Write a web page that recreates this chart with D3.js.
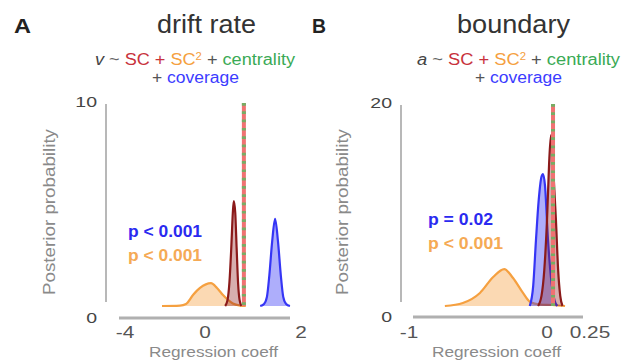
<!DOCTYPE html>
<html>
<head>
<meta charset="utf-8">
<script src="https://cdn.jsdelivr.net/npm/d3@7"></script>
<style>
  body { margin: 0; background: #fff; }
  svg { display: block; font-family: "Liberation Sans", Arial, sans-serif; }
</style>
</head>
<body>
<svg id="chart" width="621" height="362"></svg>
<script>
// ---- data ----
// panel A: drift rate posteriors
const driftSC2X = [-2.15, -1.25, -0.95, -0.6, -0.25, 0.125, 0.25, 0.375, 0.48, 0.58, 0.73, 0.85];
const driftSC2Y = [0, 0.02, 0.1, 0.54, 0.89, 1.13, 0.89, 0.54, 0.3, 0.12, 0.02, 0];
const driftSCX = [0.42, 0.47, 0.51, 0.55, 0.58, 0.6, 0.63, 0.66, 0.69, 0.72, 0.76];
const driftSCY = [0, 0.3, 1.2, 3.0, 4.6, 5.17, 4.6, 2.8, 1.1, 0.3, 0];
const driftCovX = [1.15, 1.23, 1.29, 1.34, 1.4, 1.46, 1.52, 1.58, 1.63, 1.69, 1.77];
const driftCovY = [0, 0.1, 0.45, 1.5, 3.2, 4.29, 3.2, 1.5, 0.45, 0.1, 0];
const driftCentrality = 0.81;

// panel B: boundary posteriors
const boundSC2X = [-0.74, -0.61, -0.486, -0.39, -0.31, -0.246, -0.174, -0.123, -0.05, 0.03, 0.105];
const boundSC2Y = [0, 0.3, 1.29, 2.87, 3.66, 2.77, 1.29, 0.4, 0.15, 0.1, 0];
const boundCovX = [-0.125, -0.1, -0.08, -0.06, -0.04, -0.029, -0.015, 0.006, 0.025, 0.045, 0.06];
const boundCovY = [0, 2, 6.5, 10.5, 12.8, 13.07, 12, 6.5, 2.5, 0.5, 0];
const boundSCX = [-0.065, -0.04, -0.02, 0, 0.012, 0.023, 0.035, 0.052, 0.065, 0.077, 0.09];
const boundSCY = [0, 1, 3.5, 8.5, 14, 16.93, 14, 8.5, 3.5, 1, 0];
const boundCentrality = 0.035;

const xTicksA = [-4, 0, 2];
const xTicksB = [-1, 0, 0.25];
const yMaxA = 10;
const yMaxB = 20;
const pTextA = ["p < 0.001", "p < 0.001"];
const pTextB = ["p = 0.02", "p < 0.001"];

const RED = "#c8323c", ORANGE = "#f5a040", GREEN = "#3aaa55", BLUE = "#3c3cff";
const DARKRED = "#8b1a1a", COVBLUE = "#3535f5";

const svg = d3.select("#chart");
const STRETCH = 1.3;   // the figure's text is drawn wide

function label(g, x, y, str, o) {
  const t = g.append("text")
    .attr("x", x).attr("y", y)
    .attr("font-size", o.size)
    .attr("fill", o.color || "#333")
    .attr("text-anchor", o.anchor || "start")
    .text(str);
  if (o.weight) t.attr("font-weight", o.weight);
  const w = o.width || t.node().getComputedTextLength() * STRETCH;
  t.attr("textLength", w).attr("lengthAdjust", "spacingAndGlyphs");
  return t;
}

function formula(g, x, y, width, parts) {
  const t = g.append("text").attr("x", x).attr("y", y).attr("font-size", 16);
  parts.forEach(p => {
    const s = t.append("tspan").text(p[0]).attr("fill", p[1]);
    if (p[2] === "it") s.attr("font-style", "italic");
    if (p[2] === "sup") s.attr("baseline-shift", "super").attr("font-size", 10);
  });
  t.attr("textLength", width).attr("lengthAdjust", "spacingAndGlyphs");
}

function panel(cfg) {
  const g = svg.append("g");
  const x = d3.scaleLinear().domain(cfg.xTicks).range(cfg.xRange);
  const y = d3.scaleLinear().domain([0, cfg.yMax]).range([306, cfg.yTop]);

  // axes (offset, no ticks)
  g.append("line")
    .attr("x1", cfg.xLine[0]).attr("x2", cfg.xLine[1])
    .attr("y1", cfg.axisY).attr("y2", cfg.axisY)
    .attr("stroke", "#b0b0b0").attr("stroke-width", 3);
  g.append("line")
    .attr("x1", cfg.axisX).attr("x2", cfg.axisX)
    .attr("y1", y(cfg.yMax) + 1).attr("y2", 302)
    .attr("stroke", "#a0a0a0").attr("stroke-width", 1.5);

  cfg.xTicks.forEach(v => label(g, x(v), 338, String(v), { size: 16, color: "#555", anchor: "middle" }));
  label(g, cfg.axisX - 9, y(cfg.yMax) + 4, String(cfg.yMax), { size: 15, color: "#444", anchor: "end" });
  label(g, cfg.axisX - 9, cfg.axisY + 5, "0", { size: 15, color: "#444", anchor: "end" });

  // densities
  const area = d3.area().x(d => x(d[0])).y0(y(0)).y1(d => y(d[1])).curve(d3.curveMonotoneX);
  const line = d3.line().x(d => x(d[0])).y(d => y(d[1])).curve(d3.curveMonotoneX);
  cfg.curves.forEach(c => {
    const pts = d3.zip(c.xs, c.ys);
    g.append("path").attr("d", area(pts)).attr("fill", c.color).attr("fill-opacity", c.fillOp);
    g.append("path").attr("d", line(pts)).attr("fill", "none")
      .attr("stroke", c.color).attr("stroke-width", 2.2).attr("stroke-linejoin", "round");
  });

  // centrality: red/green dashed vertical line
  g.append("line")
    .attr("x1", x(cfg.centrality)).attr("x2", x(cfg.centrality))
    .attr("y1", y(cfg.yMax)).attr("y2", y(0))
    .attr("stroke", "#f07272").attr("stroke-width", 4);
  g.append("line")
    .attr("x1", x(cfg.centrality)).attr("x2", x(cfg.centrality))
    .attr("y1", y(cfg.yMax)).attr("y2", y(0))
    .attr("stroke", "#76ad64").attr("stroke-width", 4)
    .attr("stroke-dasharray", "2.7,5.6");

  // p values
  label(g, cfg.pX, cfg.pY[0], cfg.pText[0], { size: 16, weight: "bold", color: "#2a2af0", width: cfg.pW[0] });
  label(g, cfg.pX, cfg.pY[1], cfg.pText[1], { size: 16, weight: "bold", color: "#f5aa55", width: cfg.pW[1] });

  // labels
  g.append("text")
    .attr("transform", `translate(${cfg.yTitleX},212) rotate(-90)`)
    .attr("text-anchor", "middle").attr("font-size", 16).attr("fill", "#8a8a8a")
    .attr("textLength", 166).attr("lengthAdjust", "spacingAndGlyphs")
    .text("Posterior probability");
  label(g, cfg.xTitleX, 357, "Regression coeff", { size: 14, color: "#8a8a8a", width: 129 });
  label(g, cfg.letterX, 33, cfg.letter, { size: 20, weight: "bold", color: "#222", width: cfg.letterW });
  label(g, cfg.titleX, 33, cfg.title, { size: 25, color: "#333", width: cfg.titleW });
  formula(g, cfg.f1X, 65, cfg.f1W, cfg.f1);
  formula(g, cfg.f2X, 83, 87, [["+ ", "#555"], ["coverage", BLUE]]);
}

panel({
  letter: "A", letterX: 14, letterW: 17, title: "drift rate", titleX: 157, titleW: 99,
  xTicks: xTicksA, xRange: [125, 205, 301], yMax: yMaxA, yTop: 103,
  axisX: 106, axisY: 318, xLine: [119, 290],
  yTitleX: 55, xTitleX: 149,
  curves: [
    { xs: driftSC2X, ys: driftSC2Y, color: ORANGE, fillOp: 0.4 },
    { xs: driftCovX, ys: driftCovY, color: COVBLUE, fillOp: 0.4 },
    { xs: driftSCX, ys: driftSCY, color: DARKRED, fillOp: 0.35 }
  ],
  centrality: driftCentrality,
  pText: pTextA, pX: 128, pY: [237, 261], pW: [74, 74],
  f1X: 95, f1W: 200,
  f1: [["v", "#444", "it"], [" ~ ", "#666"], ["SC + ", RED], ["SC", ORANGE], ["2", ORANGE, "sup"], [" + ", "#555"], ["centrality", GREEN]],
  f2X: 152
});

panel({
  letter: "B", letterX: 312, letterW: 14, title: "boundary", titleX: 457, titleW: 113,
  xTicks: xTicksB, xRange: [409, 547, 590], yMax: yMaxB, yTop: 104,
  axisX: 401, axisY: 317, xLine: [413, 583],
  yTitleX: 348, xTitleX: 432,
  curves: [
    { xs: boundSC2X, ys: boundSC2Y, color: ORANGE, fillOp: 0.4 },
    { xs: boundCovX, ys: boundCovY, color: COVBLUE, fillOp: 0.4 },
    { xs: boundSCX, ys: boundSCY, color: DARKRED, fillOp: 0.35 }
  ],
  centrality: boundCentrality,
  pText: pTextB, pX: 428, pY: [225, 249], pW: [65, 75],
  f1X: 417, f1W: 203,
  f1: [["a", "#444", "it"], [" ~ ", "#666"], ["SC + ", RED], [" SC", ORANGE], ["2", ORANGE, "sup"], [" + ", "#555"], ["centrality", GREEN]],
  f2X: 475
});
</script>
</body>
</html>
